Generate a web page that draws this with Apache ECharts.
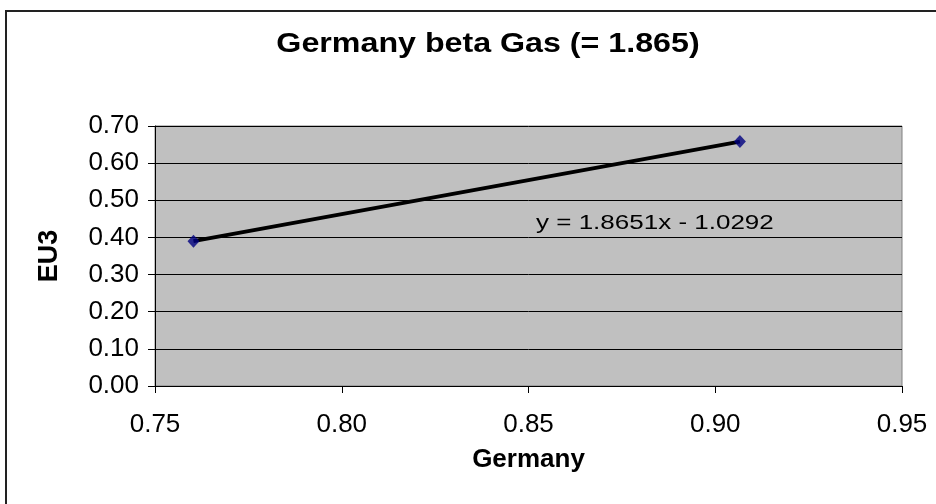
<!DOCTYPE html>
<html>
<head>
<meta charset="utf-8">
<script src="https://cdn.jsdelivr.net/npm/echarts@6/dist/echarts.min.js"></script>
<style>
  html, body { margin: 0; padding: 0; background: #fff; }
  #chart { width: 936px; height: 504px; }
</style>
</head>
<body>
<div id="chart"></div>
<script>
// Germany vs EU3 points
const germany = [0.7603, 0.9066]
const eu3 = [0.390, 0.658]
const xTicks = [0.75, 0.80, 0.85, 0.90, 0.95]
const yTicks = [0.00, 0.10, 0.20, 0.30, 0.40, 0.50, 0.60, 0.70]
const titleText = 'Germany beta Gas (= 1.865)'
const equation = 'y = 1.8651x - 1.0292'

const points = germany.map((x, i) => [x, eu3[i]])
const font = 'Liberation Sans, Arial, sans-serif'

const chart = echarts.init(document.getElementById('chart'))
chart.setOption({
  animation: false,
  backgroundColor: '#fff',
  grid: {
    left: 155, top: 126, right: 34, bottom: 118,
    show: true,
    backgroundColor: '#c0c0c0',
    borderColor: '#808080',
    borderWidth: 1
  },
  xAxis: {
    type: 'value',
    min: xTicks[0],
    max: xTicks[xTicks.length - 1],
    interval: 0.05,
    name: 'Germany',
    nameLocation: 'middle',
    nameGap: 61,
    nameTextStyle: { fontFamily: font, fontSize: 26, fontWeight: 'bold', color: '#000' },
    axisLine: { show: true, onZero: false, lineStyle: { color: '#000', width: 1 } },
    axisTick: { show: true, length: 7, lineStyle: { color: '#000' } },
    axisLabel: {
      fontFamily: font, fontSize: 26, color: '#000', margin: 26,
      formatter: v => v.toFixed(2)
    },
    splitLine: { show: false }
  },
  yAxis: {
    type: 'value',
    min: yTicks[0],
    max: yTicks[yTicks.length - 1],
    interval: 0.1,
    name: 'EU3',
    nameLocation: 'middle',
    nameGap: 92,
    nameRotate: 90,
    nameTextStyle: { fontFamily: font, fontSize: 27, fontWeight: 'bold', color: '#000' },
    axisLine: { show: true, lineStyle: { color: '#000', width: 1 } },
    axisTick: { show: true, length: 7, lineStyle: { color: '#000' } },
    axisLabel: {
      fontFamily: font, fontSize: 26, color: '#000', margin: 16,
      formatter: v => v.toFixed(2)
    },
    splitLine: { show: true, lineStyle: { color: '#000', width: 1 } }
  },
  graphic: [
    {
      type: 'rect',
      shape: { x: 6, y: 11, width: 1000, height: 600 },
      style: { fill: 'none', stroke: '#222', lineWidth: 2 },
      silent: true,
      z: 100
    },
    {
      // chart title, widened like the original
      type: 'text',
      x: 488,
      y: 30,
      scaleX: 1.15,
      style: {
        text: titleText, x: 0, y: 0,
        align: 'center', verticalAlign: 'top',
        textAlign: 'center', textVerticalAlign: 'top',
        fontFamily: font, fontSize: 28, fontWeight: 'bold', fill: '#000'
      },
      z: 100
    },
    {
      type: 'text',
      x: 536,
      y: 213,
      scaleX: 1.3,
      style: {
        text: equation, x: 0, y: 0,
        align: 'left', verticalAlign: 'top',
        textAlign: 'left', textVerticalAlign: 'top',
        fontFamily: font, fontSize: 20, fill: '#000'
      },
      z: 100
    }
  ],
  series: [
    {
      name: 'trend',
      type: 'line',
      data: points,
      symbol: 'none',
      lineStyle: { color: '#000', width: 4 },
      z: 2
    },
    {
      name: 'EU3',
      type: 'scatter',
      data: points,
      symbol: 'diamond',
      symbolSize: [12, 13],
      itemStyle: { color: '#000080' },
      z: 3
    }
  ]
})
</script>
</body>
</html>
